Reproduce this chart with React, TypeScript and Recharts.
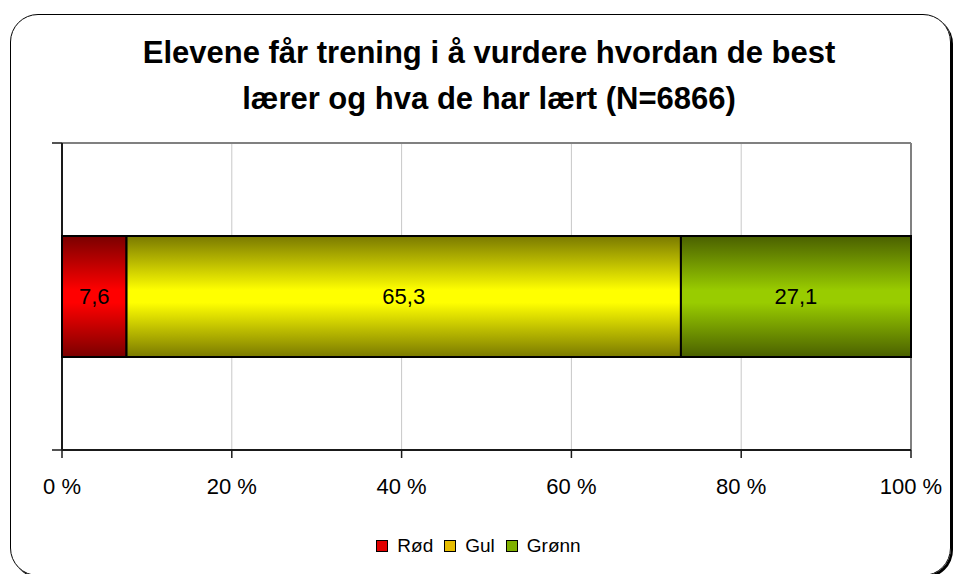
import React from 'react';
import * as R from 'recharts';
import {
  BarChart,
  Bar,
  XAxis,
  YAxis,
  CartesianGrid,
  LabelList,
  Legend,
} from 'recharts';

const categories = [''];
const rodValues = [7.6];
const gulValues = [65.3];
const gronnValues = [27.1];
const xTicks = [0, 20, 40, 60, 80, 100];
const seriesNames = ['Rød', 'Gul', 'Grønn'];
const titleLines = ['Elevene får trening i å vurdere hvordan de best', 'lærer og hva de har lært (N=6866)'];

const data = categories.map((c, i) => ({
  name: c,
  rod: rodValues[i],
  gul: gulValues[i],
  gronn: gronnValues[i],
}));

const FONT = '"Liberation Sans", Arial, sans-serif';

const legendColors = ['#e00000', '#e6bc00', '#80b000'];

const fmt = (v: any) => String(v).replace('.', ',');

const LegendContent = () => (
  <div
    style={{
      display: 'flex',
      justifyContent: 'center',
      alignItems: 'center',
      fontFamily: FONT,
      fontSize: 19,
      color: '#000',
      paddingLeft: 2,
    }}
  >
    {seriesNames.map((n, i) => (
      <div key={n} style={{ display: 'flex', alignItems: 'center', marginRight: i < 2 ? 11 : 0 }}>
        <span
          style={{
            display: 'inline-block',
            width: 10,
            height: 10,
            background: legendColors[i],
            border: '1px solid #000',
            marginRight: 9,
          }}
        />
        <span>{n}</span>
      </div>
    ))}
  </div>
);

// Plot-area frame: gray top/right border, black left axis with end tick marks
const Frame = () => {
  const anyR: any = R;
  const plot = anyR.usePlotArea ? anyR.usePlotArea() : null;
  if (!plot) return null;
  const { x, y, width, height } = plot;
  const x2 = x + width;
  const y2 = y + height;
  return (
    <g>
      <line x1={x} y1={y} x2={x2} y2={y} stroke="#808080" strokeWidth={2} />
      <line x1={x2} y1={y} x2={x2} y2={y2} stroke="#808080" strokeWidth={2} />
      <line x1={x} y1={y} x2={x} y2={y2} stroke="#1a1a1a" strokeWidth={2} />
      <line x1={x - 10} y1={y} x2={x} y2={y} stroke="#1a1a1a" strokeWidth={1.5} />
      <line x1={x - 10} y1={y2} x2={x} y2={y2} stroke="#1a1a1a" strokeWidth={1.5} />
    </g>
  );
};

export default function App() {
  return (
    <div style={{ position: 'absolute', left: 0, top: 0, width: 955, height: 574, overflow: 'hidden', background: '#fff' }}>
      <div
        style={{
          position: 'absolute',
          left: 10,
          top: 14,
          width: 941,
          height: 562,
          border: '1.5px solid #000',
          borderRadius: 28,
          boxShadow: '2px 2px 0 #000',
          boxSizing: 'border-box',
        }}
      />
      <div
        style={{
          position: 'absolute',
          left: 0,
          top: 30,
          width: 978,
          textAlign: 'center',
          fontFamily: FONT,
          fontWeight: 'bold',
          fontSize: 31,
          lineHeight: '46px',
          color: '#000',
        }}
      >
        {titleLines.map((t) => (
          <div key={t}>{t}</div>
        ))}
      </div>
      <div style={{ position: 'absolute', left: 0, top: 0 }}>
        <BarChart
          width={955}
          height={574}
          data={data}
          layout="vertical"
          margin={{ top: 143, right: 44, left: 62, bottom: 94 }}
        >
          <defs>
            <linearGradient id="gRod" x1="0" y1="0" x2="0" y2="1">
              <stop offset="0%" stopColor="#7a0000" />
              <stop offset="45%" stopColor="#ff0000" />
              <stop offset="55%" stopColor="#ff0000" />
              <stop offset="100%" stopColor="#7a0000" />
            </linearGradient>
            <linearGradient id="gGul" x1="0" y1="0" x2="0" y2="1">
              <stop offset="0%" stopColor="#7a7a00" />
              <stop offset="45%" stopColor="#ffff00" />
              <stop offset="55%" stopColor="#ffff00" />
              <stop offset="100%" stopColor="#7a7a00" />
            </linearGradient>
            <linearGradient id="gGronn" x1="0" y1="0" x2="0" y2="1">
              <stop offset="0%" stopColor="#4a6000" />
              <stop offset="45%" stopColor="#99cc00" />
              <stop offset="55%" stopColor="#99cc00" />
              <stop offset="100%" stopColor="#4a6000" />
            </linearGradient>
          </defs>
          <CartesianGrid horizontal={false} stroke="#c8c8c8" strokeWidth={1} />
          <XAxis
            type="number"
            domain={[0, 100]}
            ticks={xTicks}
            tickFormatter={(v) => `${v} %`}
            height={30}
            tickSize={8}
            tickMargin={20}
            axisLine={{ stroke: '#1a1a1a', strokeWidth: 2 }}
            tickLine={{ stroke: '#1a1a1a', strokeWidth: 1.5 }}
            tick={{ fill: '#000', fontSize: 22, fontFamily: FONT }}
            interval={0}
          />
          <YAxis type="category" dataKey="name" width={0} axisLine={false} tickLine={false} tick={false} />
          <Frame />
          <Bar dataKey="rod" name={seriesNames[0]} stackId="s" fill="url(#gRod)" stroke="#000" strokeWidth={2} barSize={121} isAnimationActive={false}>
            <LabelList dataKey="rod" position="center" formatter={fmt} fill="#000" fontSize={22} fontFamily={FONT} />
          </Bar>
          <Bar dataKey="gul" name={seriesNames[1]} stackId="s" fill="url(#gGul)" stroke="#000" strokeWidth={2} barSize={121} isAnimationActive={false}>
            <LabelList dataKey="gul" position="center" formatter={fmt} fill="#000" fontSize={22} fontFamily={FONT} />
          </Bar>
          <Bar dataKey="gronn" name={seriesNames[2]} stackId="s" fill="url(#gGronn)" stroke="#000" strokeWidth={2} barSize={121} isAnimationActive={false}>
            <LabelList dataKey="gronn" position="center" formatter={fmt} fill="#000" fontSize={22} fontFamily={FONT} />
          </Bar>
          <Legend
            layout="horizontal"
            verticalAlign="middle"
            align="center"
            content={<LegendContent />}
            wrapperStyle={{ position: 'absolute', top: 535, left: 0, width: 955, height: 24 }}
          />
        </BarChart>
      </div>
    </div>
  );
}
